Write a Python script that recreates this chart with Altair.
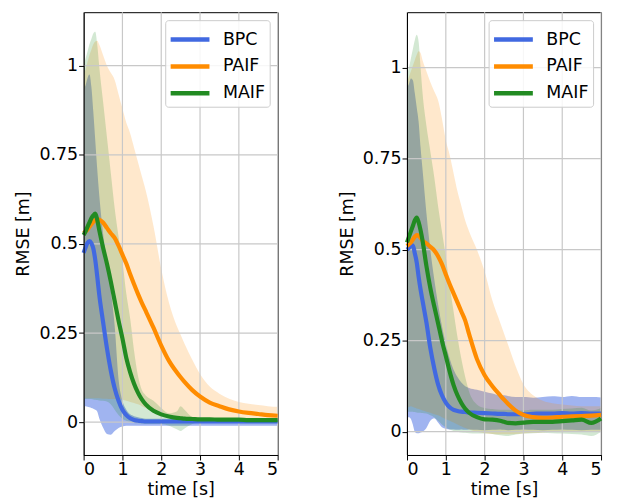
import altair as alt
import pandas as pd

# ---------------- data ----------------
T = [0, 0.05, 0.1, 0.15, 0.2, 0.25, 0.3, 0.35, 0.4, 0.5, 0.6, 0.7, 0.8, 0.9,
     1.0, 1.1, 1.2, 1.3, 1.4, 1.5, 1.6, 1.8, 2.0, 2.2, 2.4, 2.5, 2.6, 2.8,
     3.0, 3.25, 3.5, 3.75, 4.0, 4.25, 4.5, 4.75, 5.0]

METHODS = ["BPC", "PAIF", "MAIF"]
X_TICKS = [0, 1, 2, 3, 4, 5]
Y_TICKS = [0, 0.25, 0.5, 0.75, 1]

# left panel
L_BPC_MEAN = [0.475, 0.49, 0.503, 0.508, 0.502, 0.487, 0.455, 0.41, 0.36, 0.282,
              0.208, 0.145, 0.095, 0.06, 0.035, 0.02, 0.011, 0.006, 0.004, 0.003,
              0.002, 0.002, 0.002, 0.002, 0.002, 0.002, 0.002, 0.002, 0.002, 0.002,
              0.002, 0.002, 0.002, 0.002, 0.002, 0.002, 0.002]
L_BPC_HI = [0.93, 0.945, 0.965, 0.975, 0.94, 0.87, 0.79, 0.71, 0.64, 0.53,
            0.45, 0.37, 0.27, 0.12, 0.06, 0.035, 0.022, 0.017, 0.014, 0.012,
            0.01, 0.01, 0.01, 0.01, 0.01, 0.01, 0.01, 0.01, 0.01, 0.01,
            0.01, 0.01, 0.01, 0.01, 0.01, 0.01, 0.01]
L_BPC_LO = [0.045, 0.045, 0.043, 0.042, 0.04, 0.038, 0.035, 0.03, 0.012, -0.015,
            -0.033, -0.035, -0.025, -0.016, -0.012, -0.01, -0.01, -0.01, -0.01, -0.01,
            -0.01, -0.01, -0.01, -0.01, -0.01, -0.01, -0.01, -0.01, -0.01, -0.01,
            -0.01, -0.01, -0.01, -0.01, -0.01, -0.01, -0.01]
L_PAIF_MEAN = [0.53, 0.535, 0.54, 0.548, 0.555, 0.562, 0.567, 0.57, 0.568, 0.56,
               0.545, 0.53, 0.517, 0.495, 0.47, 0.445, 0.415, 0.387, 0.36, 0.335,
               0.312, 0.265, 0.215, 0.172, 0.14, 0.126, 0.113, 0.09, 0.072, 0.055,
               0.045, 0.036, 0.03, 0.026, 0.023, 0.02, 0.018]
L_PAIF_HI = [0.97, 0.99, 1.01, 1.03, 1.045, 1.06, 1.068, 1.07, 1.06, 1.03,
             1.0, 0.98, 0.96, 0.92, 0.88, 0.84, 0.81, 0.77, 0.73, 0.69,
             0.65, 0.55, 0.43, 0.335, 0.27, 0.245, 0.22, 0.175, 0.135, 0.1,
             0.08, 0.066, 0.057, 0.052, 0.048, 0.045, 0.043]
L_PAIF_LO = [0.067, 0.067, 0.067, 0.067, 0.067, 0.067, 0.067, 0.067, 0.067, 0.066,
             0.066, 0.065, 0.065, 0.065, 0.064, 0.06, 0.057, 0.054, 0.05, 0.045,
             0.04, 0.03, 0.02, 0.012, 0.008, 0.006, 0.005, 0.004, 0.003, 0.003,
             0.003, 0.003, 0.003, 0.003, 0.003, 0.003, 0.003]
L_MAIF_MEAN = [0.525, 0.535, 0.548, 0.56, 0.572, 0.58, 0.585, 0.568, 0.54, 0.49,
               0.445, 0.395, 0.34, 0.285, 0.235, 0.18, 0.14, 0.108, 0.083, 0.064,
               0.05, 0.032, 0.022, 0.016, 0.012, 0.011, 0.01, 0.009, 0.008, 0.008,
               0.007, 0.007, 0.007, 0.006, 0.006, 0.006, 0.006]
L_MAIF_HI = [1.0, 1.02, 1.04, 1.06, 1.075, 1.09, 1.095, 1.06, 1.0, 0.9,
             0.8, 0.7, 0.6, 0.52, 0.45, 0.36, 0.29, 0.2, 0.13, 0.09,
             0.075, 0.06, 0.04, 0.025, 0.03, 0.045, 0.035, 0.015, 0.012, 0.01,
             0.01, 0.01, 0.01, 0.01, 0.01, 0.01, 0.01]
L_MAIF_LO = [0.065, 0.065, 0.065, 0.065, 0.065, 0.064, 0.063, 0.062, 0.061, 0.06,
             0.058, 0.05, 0.035, 0.02, 0.01, 0.004, 0.0, -0.002, -0.003, -0.004,
             -0.005, -0.005, -0.005, -0.01, -0.02, -0.025, -0.018, -0.005, 0.0, 0.002,
             0.002, 0.002, 0.002, 0.002, 0.002, 0.002, 0.002]

# right panel
R_BPC_MEAN = [0.5, 0.505, 0.512, 0.512, 0.49, 0.465, 0.425, 0.39, 0.36, 0.3,
              0.23, 0.175, 0.13, 0.1, 0.08, 0.067, 0.06, 0.057, 0.055, 0.054,
              0.053, 0.052, 0.051, 0.05, 0.049, 0.049, 0.048, 0.048, 0.048, 0.049,
              0.05, 0.05, 0.051, 0.05, 0.051, 0.05, 0.05]
R_BPC_HI = [0.945, 0.955, 0.97, 0.965, 0.93, 0.89, 0.85, 0.78, 0.72, 0.6,
            0.5, 0.42, 0.35, 0.29, 0.24, 0.2, 0.17, 0.15, 0.135, 0.125,
            0.12, 0.115, 0.11, 0.105, 0.1, 0.1, 0.098, 0.095, 0.095, 0.093,
            0.095, 0.097, 0.095, 0.098, 0.095, 0.095, 0.094]
R_BPC_LO = [0.04, 0.04, 0.035, 0.02, 0.0, -0.004, -0.004, -0.002, 0.0, 0.01,
            0.03, 0.037, 0.025, 0.012, 0.008, 0.006, 0.006, 0.005, 0.006, 0.005,
            0.006, 0.005, 0.004, 0.005, 0.006, 0.005, 0.004, 0.005, 0.006, 0.005,
            0.004, 0.005, 0.006, 0.005, 0.004, 0.005, 0.005]
R_PAIF_MEAN = [0.51, 0.515, 0.52, 0.528, 0.535, 0.54, 0.538, 0.532, 0.525, 0.517,
               0.508, 0.498, 0.482, 0.46, 0.432, 0.405, 0.38, 0.355, 0.33, 0.305,
               0.268, 0.2, 0.155, 0.125, 0.1, 0.088, 0.077, 0.058, 0.046, 0.04,
               0.038, 0.039, 0.041, 0.042, 0.043, 0.044, 0.046]
R_PAIF_HI = [0.96, 0.975, 0.99, 1.005, 1.02, 1.035, 1.045, 1.04, 1.02, 0.99,
             0.96, 0.935, 0.91, 0.86, 0.8, 0.76, 0.71, 0.66, 0.62, 0.58,
             0.55, 0.5, 0.44, 0.36, 0.3, 0.27, 0.24, 0.18, 0.13, 0.1,
             0.085, 0.078, 0.075, 0.072, 0.07, 0.07, 0.07]
R_PAIF_LO = [0.065, 0.068, 0.07, 0.068, 0.066, 0.064, 0.062, 0.06, 0.058, 0.055,
             0.052, 0.048, 0.045, 0.04, 0.035, 0.03, 0.025, 0.02, 0.015, 0.01,
             0.006, 0.0, -0.004, -0.006, -0.007, -0.007, -0.007, -0.006, -0.005, -0.003,
             -0.002, 0.0, 0.0, 0.0, 0.0, 0.0, 0.0]
R_MAIF_MEAN = [0.52, 0.535, 0.55, 0.565, 0.58, 0.588, 0.575, 0.553, 0.525, 0.455,
               0.395, 0.345, 0.298, 0.25, 0.208, 0.165, 0.128, 0.1, 0.079, 0.063,
               0.052, 0.04, 0.034, 0.033, 0.03, 0.027, 0.024, 0.023, 0.025, 0.027,
               0.027, 0.027, 0.029, 0.031, 0.033, 0.024, 0.036]
R_MAIF_HI = [0.98, 1.0, 1.025, 1.05, 1.075, 1.09, 1.07, 1.0, 0.93, 0.84,
             0.77, 0.7, 0.62, 0.55, 0.48, 0.4, 0.33, 0.26, 0.2, 0.15,
             0.11, 0.075, 0.065, 0.062, 0.06, 0.06, 0.06, 0.058, 0.058, 0.06,
             0.06, 0.06, 0.062, 0.064, 0.066, 0.058, 0.065]
R_MAIF_LO = [0.055, 0.055, 0.055, 0.055, 0.054, 0.053, 0.052, 0.052, 0.051, 0.05,
             0.045, 0.04, 0.03, 0.02, 0.012, 0.006, 0.002, 0.0, -0.002, -0.003,
             -0.004, -0.005, -0.005, -0.006, -0.01, -0.011, -0.012, -0.008, -0.005, -0.004,
             -0.003, -0.004, -0.005, -0.006, -0.008, -0.012, 0.0]

# ---------------- styling ----------------
COLORS = ["#4169e1", "#ff8c00", "#228b22"]
BAND_OPACITY = [0.5, 0.2, 0.2]
GRID_COLOR = "#c8c8c8"
FONT = "DejaVu Sans"
FS = 17.5


def make_df(series):
    rows = []
    for m, (mean, lo, hi) in zip(METHODS, series):
        for t, a, b, c in zip(T, mean, lo, hi):
            rows.append({"t": t, "method": m, "mean": a, "lo": b, "hi": c})
    return pd.DataFrame(rows)


def panel(series, ydomain, label_expr):
    df = make_df(series)
    x_axis = alt.Axis(values=X_TICKS, title="time [s]", grid=False, zindex=1,
                      labelPadding=1, titlePadding=2)
    y_axis = alt.Axis(values=Y_TICKS, title="RMSE [m]", grid=False,
                      labelExpr="toString(datum.value)", zindex=1,
                      labelPadding=1, titlePadding=6)
    xenc = alt.X("t:Q", scale=alt.Scale(domain=[0, 5], nice=False, zero=False), axis=x_axis)

    def yenc(field):
        return alt.Y(field, type="quantitative",
                     scale=alt.Scale(domain=ydomain, nice=False, zero=False), axis=y_axis)

    layers = []
    for m, col, op in zip(METHODS, COLORS, BAND_OPACITY):
        layers.append(
            alt.Chart(df).transform_filter(alt.datum.method == m)
            .mark_area(color=col, opacity=op, interpolate="monotone")
            .encode(x=xenc, y=yenc("lo"), y2="hi:Q")
        )
    gx = alt.Chart(pd.DataFrame({"t": X_TICKS})).mark_rule(
        color=GRID_COLOR, strokeWidth=1.2).encode(x=xenc)
    gy = alt.Chart(pd.DataFrame({"v": Y_TICKS})).mark_rule(
        color=GRID_COLOR, strokeWidth=1.2).encode(y=yenc("v"))
    layers += [gx, gy]

    legend = alt.Legend(
        title=None, orient="top-right", offset=8, padding=4,
        fillColor="rgba(255,255,255,0.85)", strokeColor="#cccccc", cornerRadius=3,
        symbolType="M-1.08,0H1.92", symbolSize=676, symbolStrokeWidth=4.5,
        labelFontSize=FS, labelFont=FONT, labelColor="black", labelOffset=23,
        rowPadding=2, labelExpr=label_expr,
    )
    for m in METHODS:
        layers.append(
            alt.Chart(df).transform_filter(alt.datum.method == m)
            .mark_line(strokeWidth=4.2, interpolate="monotone")
            .encode(
                x=xenc, y=yenc("mean"),
                stroke=alt.Stroke("method:N", scale=alt.Scale(domain=METHODS, range=COLORS),
                                  legend=legend),
            )
        )
    return alt.layer(*layers).properties(width=195, height=445)


left = panel([(L_BPC_MEAN, L_BPC_LO, L_BPC_HI),
              (L_PAIF_MEAN, L_PAIF_LO, L_PAIF_HI),
              (L_MAIF_MEAN, L_MAIF_LO, L_MAIF_HI)],
             [-0.092, 1.15], "datum.label")
right = panel([(R_BPC_MEAN, R_BPC_LO, R_BPC_HI),
               (R_PAIF_MEAN, R_PAIF_LO, R_PAIF_HI),
               (R_MAIF_MEAN, R_MAIF_LO, R_MAIF_HI)],
              [-0.064, 1.152], "datum.label == 'BPC' ? datum.label : '\u2004' + datum.label")

chart = (
    alt.hconcat(left, right, spacing=130, bounds="flush")
    .resolve_scale(x="independent", y="independent", stroke="independent")
    .resolve_legend(stroke="independent")
    .properties(padding={"left": 6, "top": 1, "right": 0, "bottom": 0})
    .configure(font=FONT)
    .configure_view(stroke="black", strokeWidth=1)
    .configure_axis(
        labelFont=FONT, titleFont=FONT, labelFontSize=FS, titleFontSize=FS,
        titleFontWeight="normal", labelColor="black", titleColor="black",
        tickColor="black", tickSize=5, tickWidth=1, domainColor="black",
        domainWidth=1,
    )
)

chart.save("out.html", embed_options={"renderer": "svg", "actions": False})
